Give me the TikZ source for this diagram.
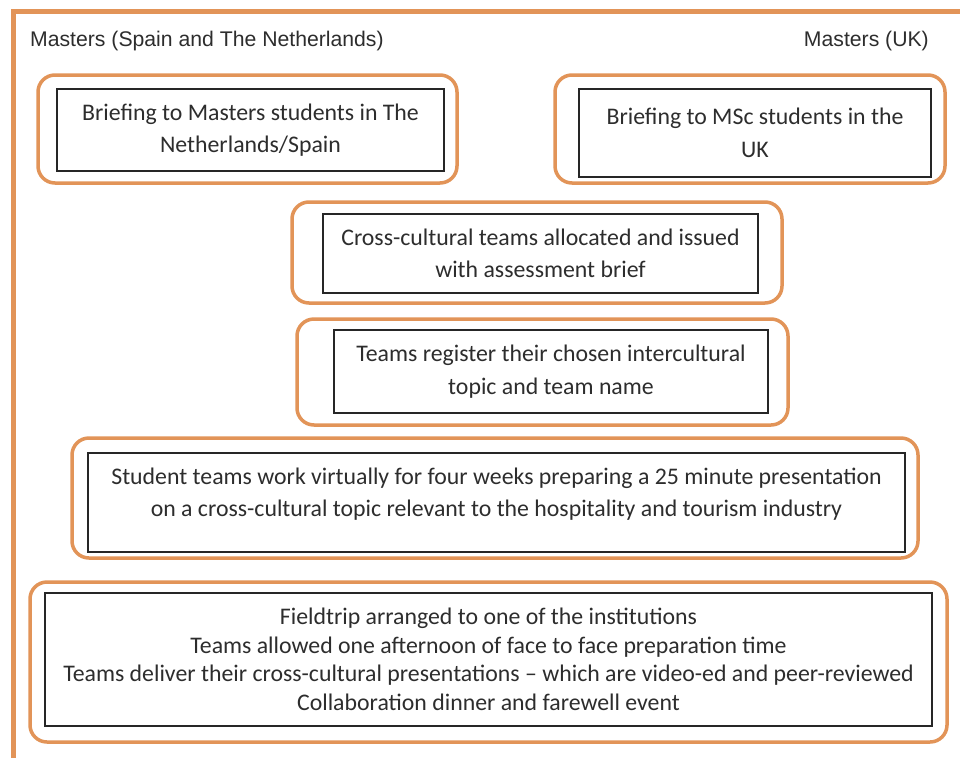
\documentclass[tikz,border=0pt]{standalone}
\usepackage{fontspec}
\setmainfont{Carlito}
\newfontfamily\hdrfont{Liberation Sans}
\definecolor{frameorange}{RGB}{226,148,88}
\definecolor{txtgray}{RGB}{45,45,45}
\begin{document}
\begin{tikzpicture}[x=1pt,y=-1pt,
  obox/.style={draw=frameorange,line width=3.5pt,rounded corners=17pt,inner sep=0pt,outer sep=0pt},
  ibox/.style={draw=black!85,line width=1.6pt,inner sep=0pt,outer sep=0pt,align=center,text=txtgray,
    font=\fontsize{23.8}{32.5}\selectfont},
  btext/.style={inner sep=0pt,align=center,text=txtgray,font=\fontsize{23.8}{32}\selectfont},
  hdr/.style={inner sep=0pt,text=txtgray,font=\hdrfont\fontsize{21.2}{26}\selectfont}]
\useasboundingbox (0,0) rectangle (960,758);
\fill[white] (0,0) rectangle (960,758);
% outer frame (cropped on the right and bottom)
\draw[frameorange,line width=5pt] (960,11) -- (13,11) -- (13,758);
% headers
\node[hdr,anchor=base west] (hl) at (30,46) {Masters (Spain and The Netherlands)};
\node[hdr,anchor=base east] (hr) at (929,46) {Masters (UK)};
% box 1
\node[obox,minimum width=419pt,minimum height=108pt] (o1) at (247.5,129) {};
\node[ibox,minimum width=387pt,minimum height=82pt] (i1) at (250.5,130)
  {Briefing to Masters students in The\\Netherlands/Spain};
% box 2
\node[obox,minimum width=390pt,minimum height=108pt] (o2) at (750,129) {};
\node[ibox,minimum width=352pt,minimum height=88pt] (i2) at (755,133)
  {Briefing to MSc students in the\\UK};
% box 3
\node[obox,minimum width=490pt,minimum height=101pt] (o3) at (537,252.5) {};
\node[ibox,minimum width=435pt,minimum height=79pt] (i3) at (540.5,253.5)
  {Cross-cultural teams allocated and issued\\with assessment brief};
% box 4
\node[obox,minimum width=491pt,minimum height=106pt] (o4) at (542.5,372) {};
\node[ibox,minimum width=434pt,minimum height=83pt] (i4) at (551,371.5)
  {Teams register their chosen intercultural\\topic and team name};
% box 5
\node[obox,minimum width=846pt,minimum height=120pt] (o5) at (495,498) {};
\node[ibox,minimum width=817pt,minimum height=99pt] (i5) at (496.5,502.5) {};
\node[btext] (t5) at ([yshift=8pt]i5.center)
  {Student teams work virtually for four weeks preparing a 25 minute presentation\\on a cross-cultural topic relevant to the hospitality and tourism industry};
% box 6
\node[obox,minimum width=917pt,minimum height=160pt] (o6) at (488.5,662) {};
\node[ibox,minimum width=887pt,minimum height=133pt,font=\fontsize{23.8}{28.5}\selectfont] (i6) at (488.5,659.5)
  {Fieldtrip arranged to one of the institutions\\
   Teams allowed one afternoon of face to face preparation time\\
   Teams deliver their cross-cultural presentations -- which are video-ed and peer-reviewed\\
   Collaboration dinner and farewell event};
\end{tikzpicture}
\end{document}
